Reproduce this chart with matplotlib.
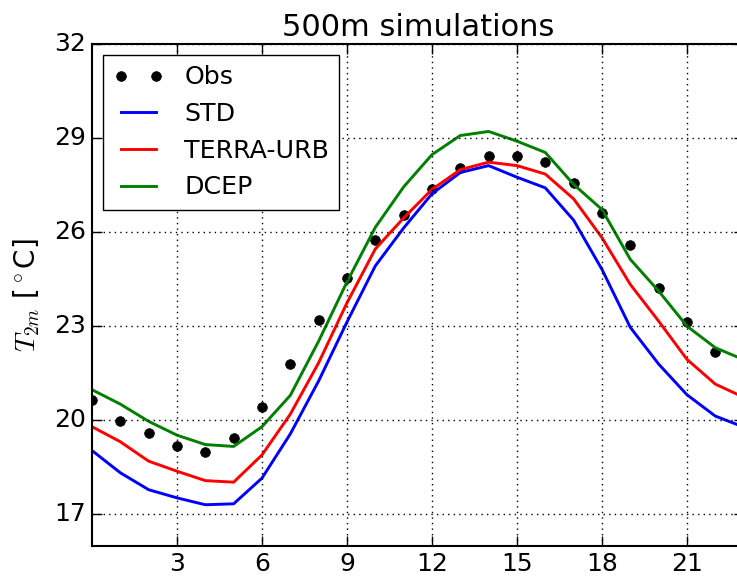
import matplotlib
matplotlib.use("Agg")
import matplotlib.pyplot as plt
import numpy as np

plt.style.use('classic')

hours_obs = list(range(23))
hours_sim = list(range(24))
obs = [20.64, 19.96, 19.59, 19.18, 18.99, 19.42, 20.43, 21.80, 23.20, 24.53, 25.74,
       26.56, 27.36, 28.05, 28.43, 28.43, 28.23, 27.55, 26.61, 25.58, 24.22, 23.14, 22.18]
std = [19.03, 18.32, 17.78, 17.52, 17.30, 17.33, 18.15, 19.56, 21.25, 23.13, 24.92, 26.13,
       27.22, 27.90, 28.12, 27.75, 27.41, 26.38, 24.81, 22.96, 21.79, 20.81, 20.13, 19.78]
terra = [19.79, 19.31, 18.69, 18.37, 18.07, 18.02, 18.89, 20.19, 21.83, 23.74, 25.46, 26.45,
         27.36, 27.99, 28.23, 28.12, 27.85, 27.06, 25.82, 24.33, 23.16, 21.94, 21.15, 20.73]
dcep = [20.97, 20.51, 19.96, 19.52, 19.22, 19.16, 19.79, 20.79, 22.52, 24.41, 26.15, 27.44,
        28.47, 29.08, 29.21, 28.90, 28.54, 27.52, 26.72, 25.13, 24.12, 23.00, 22.31, 21.93]
xticks = [3, 6, 9, 12, 15, 18, 21]
yticks = [17, 20, 23, 26, 29, 32]

fig = plt.figure(figsize=(7.37, 5.77), dpi=100, facecolor='white')
ax = fig.add_axes([92/737, (577-545.5)/577, (743.6-92)/737, (545.5-44)/577])
ax.set_facecolor('white')

ax.plot(hours_obs, obs, 'ko', ls='none', ms=7, label='Obs')
ax.plot(hours_sim, std, color='b', lw=2.1, label='STD')
ax.plot(hours_sim, terra, color='r', lw=2.1, label='TERRA-URB')
ax.plot(hours_sim, dcep, color='g', lw=2.1, label='DCEP')

ax.set_xlim(0, 23)
ax.set_ylim(16, 32)
ax.set_xticks(xticks)
ax.set_yticks(yticks)
ax.tick_params(labelsize=18, length=7, width=1)
ax.tick_params(axis='x', pad=5)
ax.tick_params(axis='y', pad=4)
for s in ax.spines.values():
    s.set_linewidth(1.5)
ax.grid(True, color='k', linestyle=':', linewidth=1)
ax.set_title('500m simulations', fontsize=22, pad=6)
ax.set_ylabel(r'$T_{2m}$ [$^\circ$C]', fontsize=20, labelpad=9)
ax.legend(loc='upper left', fontsize=18.2, numpoints=2, borderaxespad=0.45)

fig.savefig('out.png', dpi=100, facecolor='white')
